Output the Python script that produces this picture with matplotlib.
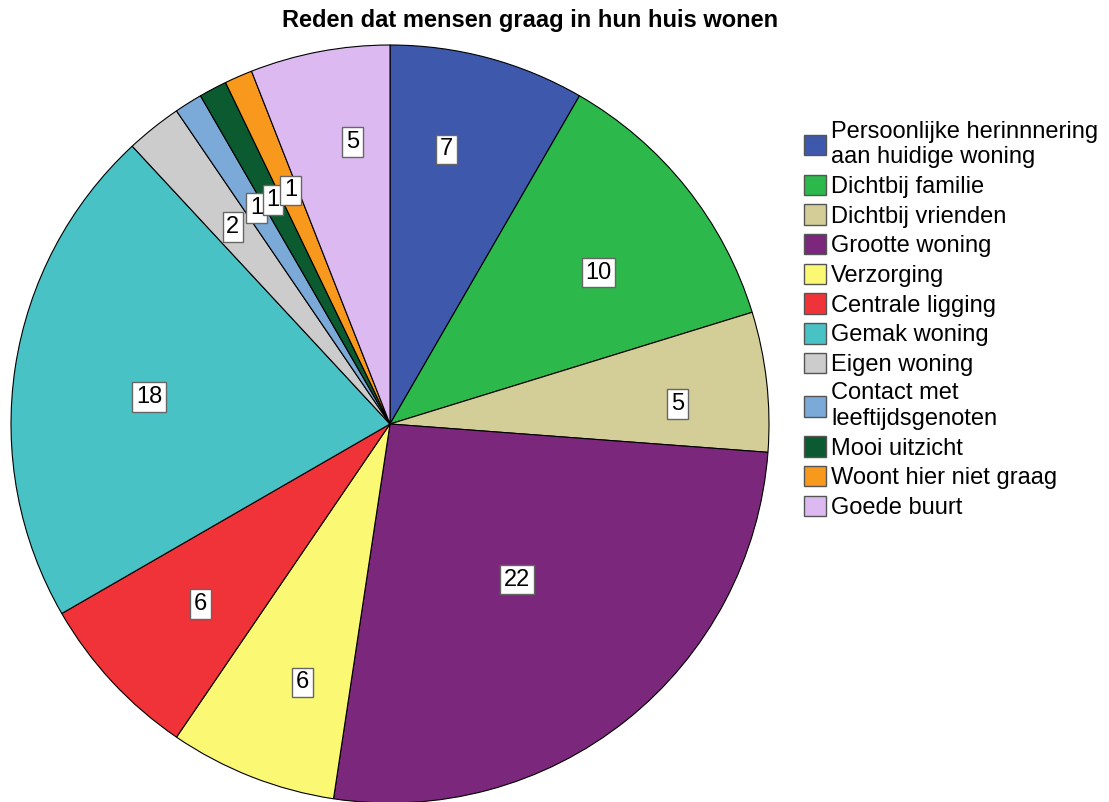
import matplotlib.pyplot as plt
import numpy as np
from matplotlib.patches import Patch

plt.rcParams['font.family'] = ['Liberation Sans', 'DejaVu Sans']

# data
redenen = ['Persoonlijke herinnnering\naan huidige woning', 'Dichtbij familie',
           'Dichtbij vrienden', 'Grootte woning', 'Verzorging', 'Centrale ligging',
           'Gemak woning', 'Eigen woning', 'Contact met\nleeftijdsgenoten',
           'Mooi uitzicht', 'Woont hier niet graag', 'Goede buurt']
aantallen = [7, 10, 5, 22, 6, 6, 18, 2, 1, 1, 1, 5]

kleuren = ['#3e58ac', '#2db84b', '#d3ce97', '#7b287c', '#fbf873', '#ef3338',
           '#48c2c5', '#cccccc', '#7ba9d8', '#0c5a2f', '#f8981d', '#dcbaf1']
# plaats van de labels: afstand tot het midden (fractie van de straal)
# en verschuiving van de hoek (graden, met de klok mee)
label_r = [0.74, 0.68, 0.76, 0.53, 0.72, 0.69, 0.64, 0.665, 0.67, 0.667, 0.67, 0.75]
label_dhoek = [-3.3, 2.6, 2.4, -0.7, -2.7, -0.7, -2.2, 0, 0.5, 0.3, 0.5, 3.1]

W, H = 1109, 802
fig = plt.figure(figsize=(W / 100, H / 100), dpi=100)

cx, cy, R = 390, 424, 379
ax = fig.add_axes([(cx - R) / W, (H - cy - R) / H, 2 * R / W, 2 * R / H])

wedges, _ = ax.pie(aantallen, colors=kleuren, startangle=90, counterclock=False,
                   radius=1, wedgeprops=dict(edgecolor='black', linewidth=0.8))
ax.set_xlim(-1, 1)
ax.set_ylim(-1, 1)
ax.set_aspect('equal')
ax.axis('off')

# labels met witte kaders
for w, n, r, dh in zip(wedges, aantallen, label_r, label_dhoek):
    hoek = np.deg2rad((w.theta1 + w.theta2) / 2 - dh)
    ax.text(r * np.cos(hoek), r * np.sin(hoek), str(n), ha='center', va='center',
            fontsize=17,
            bbox=dict(boxstyle='square,pad=0.16', facecolor='white',
                      edgecolor='#666666', linewidth=1))

fig.text(530 / W, 1 - 20 / H, 'Reden dat mensen graag in hun huis wonen',
         ha='center', va='center', fontsize=17, fontweight='bold')

handles = [Patch(facecolor=k, edgecolor='#555555', linewidth=1) for k in kleuren]
fig.legend(handles, redenen, loc='upper left', bbox_to_anchor=(804 / W, 1 - 121 / H),
           frameon=False, fontsize=17, handlelength=0.95, handleheight=0.95,
           handletextpad=0.2, labelspacing=0.27, borderpad=0, borderaxespad=0)

plt.savefig('out.png', dpi=100)
